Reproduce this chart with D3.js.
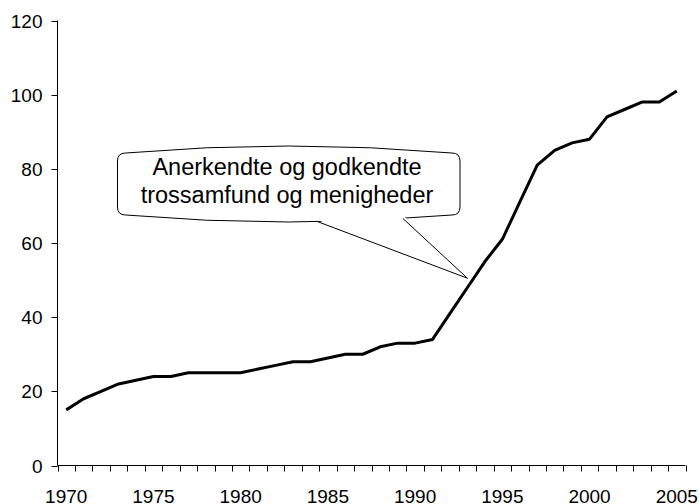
<!DOCTYPE html>
<html>
<head>
<meta charset="utf-8">
<script src="https://cdn.jsdelivr.net/npm/d3@7"></script>
<style>
  html, body { margin: 0; padding: 0; background: #fff; }
  svg { display: block; }
  text { font-family: "Liberation Sans", Arial, sans-serif; fill: #000; }
</style>
</head>
<body>
<svg id="chart" width="699" height="504"></svg>
<script>
const years = d3.range(1970, 2006);
const values = [15, 18, 20, 22, 23, 24, 24, 25, 25, 25,
                25, 26, 27, 28, 28, 29, 30, 30, 32, 33,
                33, 34, 41, 48, 55, 61, 71, 81, 85, 87,
                88, 94, 96, 98, 98, 101];
const yTicks = [0, 20, 40, 60, 80, 100, 120];
const xLabelYears = [1970, 1975, 1980, 1985, 1990, 1995, 2000, 2005];
const calloutLines = ["Anerkendte og godkendte", "trossamfund og menigheder"];
const calloutPointYear = 1993;
const calloutPointValue = 50.5;

(function () {
const svg = d3.select("#chart");
const pLeft = 57.5, pRight = 685.5, pTop = 20.5, pBottom = 465.5;

const x = d3.scaleBand().domain(years).range([pLeft, pRight]).padding(0);
const y = d3.scaleLinear().domain([0, 120]).range([pBottom, pTop]);
const bw = x.bandwidth();
const cx = d => x(d) + bw / 2;

// Y axis
svg.append("line").attr("x1", pLeft).attr("x2", pLeft).attr("y1", y(120)).attr("y2", pBottom)
  .attr("stroke", "#000").attr("stroke-width", 1);
yTicks.forEach(t => {
  const yy = Math.round(y(t)) + 0.5;
  svg.append("line").attr("x1", pLeft - 6).attr("x2", pLeft).attr("y1", yy).attr("y2", yy)
    .attr("stroke", "#000");
  svg.append("text").attr("x", 42.5).attr("y", yy).attr("dy", "0.35em")
    .attr("text-anchor", "end").attr("font-size", 19).text(t);
});

// X axis
svg.append("line").attr("x1", pLeft).attr("x2", pRight).attr("y1", pBottom).attr("y2", pBottom)
  .attr("stroke", "#000").attr("stroke-width", 1);
const boundaries = years.map(d => x(d)).concat([pRight]);
boundaries.forEach(b => {
  const xx = Math.round(b) + 0.5;
  svg.append("line").attr("x1", xx).attr("x2", xx).attr("y1", pBottom).attr("y2", pBottom + 6)
    .attr("stroke", "#000");
});
xLabelYears.forEach(yr => {
  svg.append("text").attr("x", cx(yr)).attr("y", 502.5)
    .attr("text-anchor", "middle").attr("font-size", 19).text(yr);
});

// Line
const line = d3.line().x((d, i) => cx(years[i])).y(d => y(d));
svg.append("path").datum(values).attr("d", line)
  .attr("fill", "none").attr("stroke", "#000").attr("stroke-width", 3)
  .attr("stroke-linejoin", "round");

// Callout
const bx0 = 117.5, bx1 = 460, topC = 153, botC = 215, r = 8;
const midX = (bx0 + bx1) / 2;
const boxPath = [
  `M${bx0},${topC + r}`,
  `Q${bx0},${topC} ${bx0 + r},${topC}`,
  `Q${midX},${topC - 14} ${bx1 - r},${topC}`,
  `Q${bx1},${topC} ${bx1},${topC + r}`,
  `L${bx1},${botC - r}`,
  `Q${bx1},${botC} ${bx1 - r},${botC}`,
  `Q${midX},${botC + 14} ${bx0 + r},${botC}`,
  `Q${bx0},${botC} ${bx0},${botC - r}`,
  "Z"
].join(" ");
svg.append("path").attr("d", boxPath).attr("fill", "#fff").attr("stroke", "#000").attr("stroke-width", 1);

function bottomAt(px) {
  const p0 = bx1 - r, p2 = bx0 + r;
  const t = (p0 - px) / (p0 - p2);
  return botC + 2 * t * (1 - t) * 14;
}
const tipX = cx(calloutPointYear), tipY = y(calloutPointValue);
const b1x = 318, b2x = 403;
const b1y = bottomAt(b1x), b2y = bottomAt(b2x);
svg.append("path")
  .attr("d", `M${b1x - 1},${b1y - 2} L${tipX},${tipY} L${b2x + 1},${b2y - 2} Z`)
  .attr("fill", "#fff").attr("stroke", "none");
svg.append("path")
  .attr("d", `M${b1x},${b1y} L${tipX},${tipY} L${b2x},${b2y}`)
  .attr("fill", "none").attr("stroke", "#000").attr("stroke-width", 1);

calloutLines.forEach((t, i) => {
  svg.append("text").attr("x", 287).attr("y", 175 + i * 28.3)
    .attr("text-anchor", "middle").attr("font-size", 23.5).text(t);
});
})();
</script>
</body>
</html>
